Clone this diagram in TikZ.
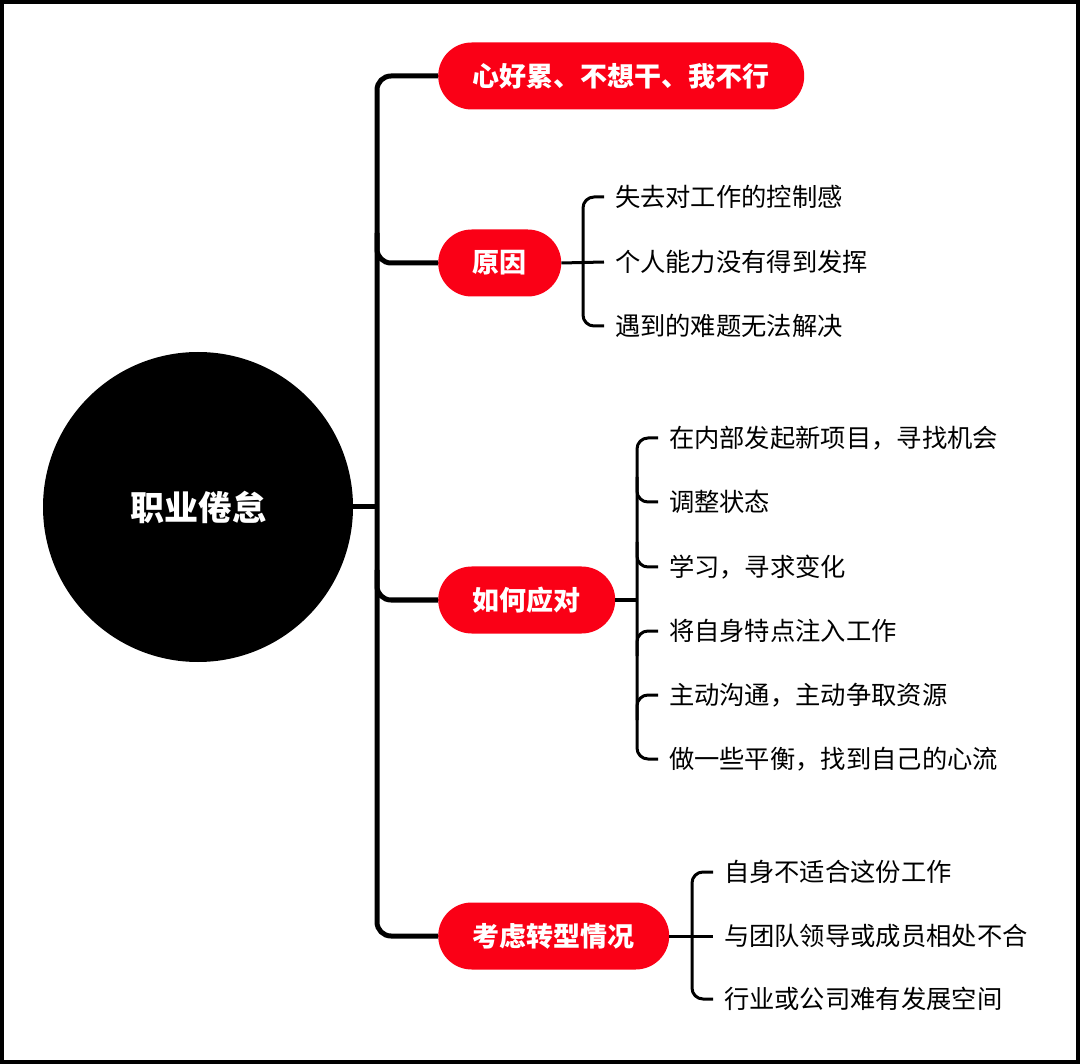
\documentclass[tikz,border=0pt]{standalone}
\usepackage{fontspec}
\setmainfont{Noto Sans CJK SC}
\usetikzlibrary{positioning,calc}

\definecolor{pillred}{RGB}{250,0,22}

\tikzset{
  pill/.style={fill=pillred,text=white,rounded corners=33.5pt,minimum height=67pt,
    inner xsep=34.5pt,inner ysep=0pt,anchor=west,font=\fontsize{27}{31}\selectfont\bfseries},
  leaf/.style={anchor=west,inner xsep=0pt,outer xsep=11pt,inner ysep=0pt,
    font=\fontsize{25.3}{30}\selectfont},
  trunk/.style={line width=5pt,rounded corners=14pt},
  twig/.style={line width=3pt,rounded corners=11pt},
}

\begin{document}
\begin{tikzpicture}[x=1pt,y=-1pt]
    \useasboundingbox (0,0) rectangle (1080,1064);
    \draw[line width=4pt] (2,2) rectangle (1078,1062);

    % centre
    \node[circle,fill=black,minimum size=310pt,inner sep=0pt,text=white,
          font=\fontsize{34}{40}\selectfont\bfseries](root)at(198,507){职业倦怠};

    % main branches
    \node[pill](tired)at(438,76){心好累、不想干、我不行};
    \node[pill](cause)at(438,263){原因};
    \node[pill](cope)at(438,600){如何应对};
    \node[pill](shift)at(438,936){考虑转型情况};

    \coordinate (tr) at (377,507);
    \draw[trunk] (root.east) -- (tr);
    \draw[trunk] (tired.west) -| (tr) |- (shift.west);
    \draw[trunk] ($(tr |- cause.west)+(0,-30)$) |- (cause.west);
    \draw[trunk] ($(tr |- cope.west)+(0,-30)$) |- (cope.west);

    % causes
    \node[leaf](c1)at(604,197){失去对工作的控制感};
    \node[leaf](c2)at(604,262){个人能力没有得到发挥};
    \node[leaf](c3)at(604,326){遇到的难题无法解决};
    \coordinate (bc) at (583,262);
    \draw[twig] (c1.west) -| (bc) |- (c3.west);
    \draw[twig] (cause.east) -- (c2.west);

    % coping
    \node[leaf](h1)at(658,438){在内部发起新项目，寻找机会};
    \node[leaf](h2)at(658,502){调整状态};
    \node[leaf](h3)at(658,567){学习，寻求变化};
    \node[leaf](h4)at(658,631){将自身特点注入工作};
    \node[leaf](h5)at(658,695){主动沟通，主动争取资源};
    \node[leaf](h6)at(658,759){做一些平衡，找到自己的心流};
    \coordinate (bh) at (637,600);
    \draw[twig] (h1.west) -| (bh) |- (h6.west);
    \draw[twig] ($(bh |- h2.west)+(0,-25)$) |- (h2.west);
    \draw[twig] ($(bh |- h3.west)+(0,-25)$) |- (h3.west);
    \draw[twig] ($(bh |- h4.west)+(0,25)$) |- (h4.west);
    \draw[twig] ($(bh |- h5.west)+(0,25)$) |- (h5.west);
    \draw[twig] (cope.east) -- (bh);

    % change
    \node[leaf](s1)at(713,872){自身不适合这份工作};
    \node[leaf](s2)at(713,936){与团队领导或成员相处不合};
    \node[leaf](s3)at(713,999){行业或公司难有发展空间};
    \coordinate (bs) at (692,936);
    \draw[twig] (s1.west) -| (bs) |- (s3.west);
    \draw[twig] (shift.east) -- (s2.west);
\end{tikzpicture}
\end{document}
